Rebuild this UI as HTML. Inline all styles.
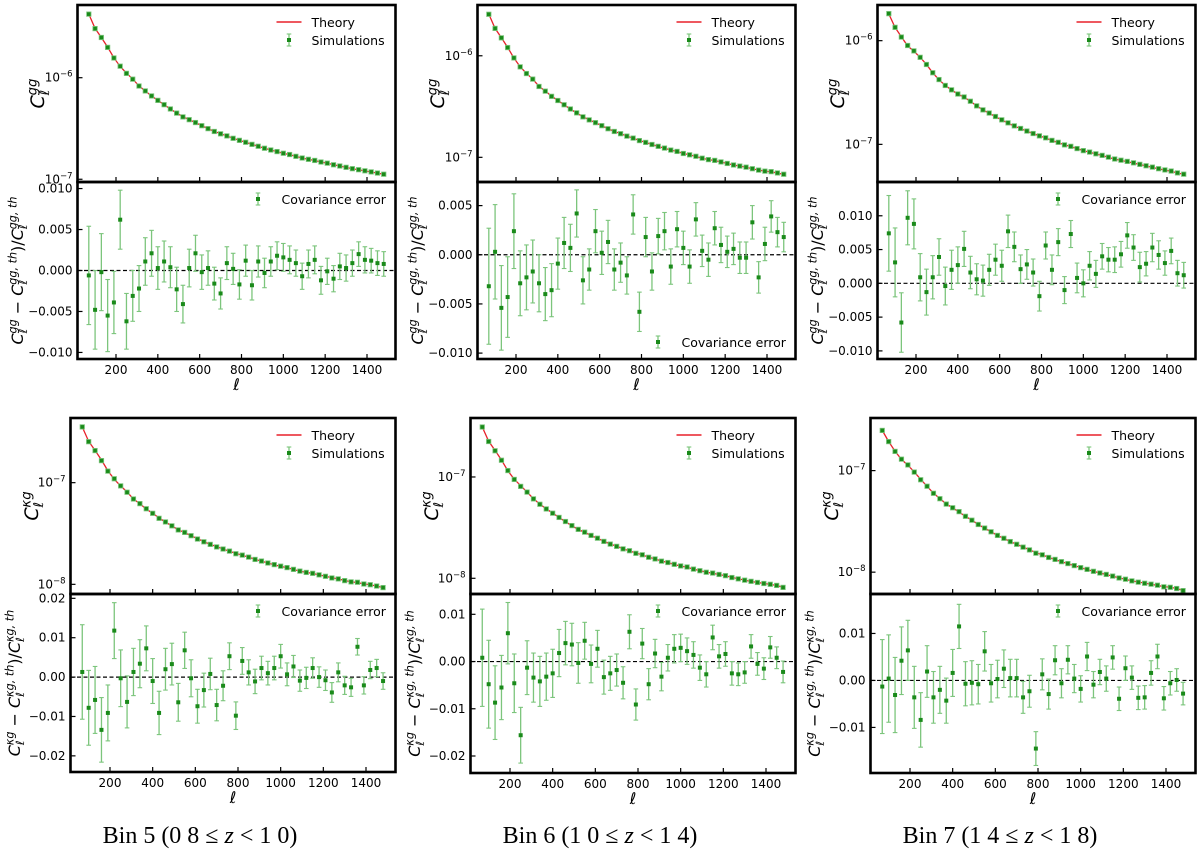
<!DOCTYPE html>
<html><head><meta charset="utf-8">
<style>
html,body{margin:0;padding:0;background:#fff;}
svg{display:block;}
text{font-family:"DejaVu Sans","Liberation Sans",sans-serif;}
.cap{font-family:"Liberation Serif",serif;font-size:24px;}
</style></head>
<body>
<svg id="fig" width="1200" height="853" viewBox="0 0 1200 853"></svg>
<script>
const ell = [70,100,130,160,190,220,250,280,310,340,370,400,430,460,490,520,550,580,610,640,670,700,730,760,790,820,850,880,910,940,970,1000,1030,1060,1090,1120,1150,1180,1210,1240,1270,1300,1330,1360,1390,1420,1450,1480];
const xTicks = [200,400,600,800,1000,1200,1400];

// theory spectra (gg in units of 1e-7, kg in units of 1e-8)
const thGG5 = [42.3,30.6,24.9,20.0,15.7,12.9,11.1,9.7,8.3,7.4,6.6,5.98,5.42,4.92,4.49,4.13,3.86,3.61,3.37,3.15,2.96,2.81,2.67,2.53,2.42,2.31,2.21,2.11,2.02,1.94,1.87,1.80,1.75,1.68,1.62,1.57,1.53,1.48,1.44,1.39,1.35,1.31,1.27,1.24,1.21,1.18,1.15,1.12];
const thGG6 = [25.7,18.6,15.1,12.1,9.5,7.8,6.7,5.9,5.0,4.5,4.0,3.63,3.29,2.99,2.73,2.51,2.34,2.19,2.05,1.91,1.80,1.71,1.62,1.54,1.47,1.40,1.34,1.28,1.23,1.18,1.14,1.09,1.06,1.02,0.98,0.95,0.93,0.90,0.87,0.84,0.82,0.80,0.77,0.75,0.73,0.72,0.70,0.68];
const thGG7 = [18.1,13.4,10.9,8.9,7.9,6.9,5.9,4.9,4.2,3.7,3.35,3.05,2.85,2.6,2.35,2.15,2.0,1.85,1.72,1.6,1.5,1.42,1.34,1.27,1.21,1.15,1.09,1.04,0.99,0.95,0.91,0.87,0.84,0.81,0.78,0.75,0.72,0.70,0.68,0.66,0.64,0.62,0.60,0.58,0.565,0.55,0.53,0.515];
const thKG5 = [35.3,25.5,20.8,16.7,13.1,10.8,9.3,8.1,6.9,6.2,5.5,5.0,4.5,4.1,3.75,3.45,3.22,3.01,2.81,2.63,2.47,2.35,2.23,2.11,2.02,1.93,1.85,1.76,1.69,1.62,1.56,1.50,1.46,1.40,1.35,1.31,1.28,1.24,1.20,1.16,1.13,1.09,1.06,1.04,1.01,0.99,0.96,0.93];
const thKG6 = [31.1,22.5,18.3,14.7,11.5,9.5,8.2,7.1,6.1,5.4,4.85,4.4,3.98,3.62,3.30,3.04,2.84,2.65,2.48,2.32,2.18,2.07,1.96,1.86,1.78,1.70,1.62,1.55,1.48,1.43,1.37,1.32,1.29,1.23,1.19,1.15,1.12,1.09,1.06,1.02,0.99,0.96,0.93,0.91,0.89,0.87,0.85,0.815];
const thKG7 = [24.9,19.3,15.5,12.9,11.3,9.7,8.2,7.0,6.0,5.3,4.7,4.3,3.9,3.55,3.25,2.95,2.7,2.5,2.3,2.15,2.0,1.88,1.77,1.66,1.56,1.48,1.40,1.33,1.27,1.21,1.16,1.11,1.06,1.02,0.98,0.95,0.91,0.88,0.85,0.82,0.80,0.78,0.76,0.74,0.72,0.71,0.69,0.66];

// fractional residuals and covariance errors
const resGG5 = [-0.0006,-0.0048,-0.0002,-0.0055,-0.0039,0.0062,-0.0062,-0.0031,-0.0022,0.0011,0.0021,0.0003,0.0011,0.0004,-0.0023,-0.0041,0.0003,0.0021,-0.0002,0.0003,-0.0016,-0.0028,0.0009,0.0002,-0.0017,0.0012,-0.0018,0.0011,-0.0003,0.0011,0.0018,0.0016,0.0013,0.0009,-0.0007,0.0008,0.0013,-0.0012,-0.0001,-0.0010,0.0005,0.0003,0.0009,0.0020,0.0013,0.0012,0.0009,0.0008];
const errGG5 = [0.006,0.0048,0.0047,0.0044,0.0038,0.0036,0.0034,0.0031,0.0028,0.0029,0.0028,0.0026,0.0025,0.0025,0.0027,0.0023,0.0023,0.0022,0.0021,0.0021,0.0020,0.0019,0.0020,0.0019,0.0018,0.0019,0.0018,0.0019,0.0018,0.0018,0.0017,0.0017,0.0017,0.0016,0.0016,0.0017,0.0017,0.0017,0.0016,0.0016,0.0016,0.0016,0.0016,0.0015,0.0016,0.0015,0.0015,0.0015];
const resGG6 = [-0.0032,0.0003,-0.0054,-0.0043,0.0024,-0.0029,-0.0023,-0.0017,-0.0029,-0.0040,-0.0036,-0.0009,0.0012,0.0007,0.0042,-0.0026,-0.0015,0.0024,0.0002,0.0013,-0.0015,-0.0008,-0.0021,0.0041,-0.0058,0.0018,-0.0017,0.0019,0.0024,-0.0012,0.0026,0.0007,-0.0012,0.0036,0.0004,-0.0005,0.0027,0.0010,0.0003,0.0006,-0.0003,-0.0003,0.0033,-0.0023,0.0011,0.0039,0.0023,0.0018];
const errGG6 = [0.0059,0.0048,0.0043,0.0041,0.0038,0.0033,0.0033,0.0032,0.0029,0.0027,0.0027,0.0026,0.0026,0.0024,0.0024,0.0024,0.0021,0.0022,0.0022,0.0022,0.0021,0.0020,0.0019,0.0020,0.0020,0.0020,0.0019,0.0018,0.0019,0.0018,0.0018,0.0017,0.0017,0.0017,0.0016,0.0017,0.0017,0.0018,0.0016,0.0016,0.0016,0.0016,0.0017,0.0016,0.0017,0.0016,0.0015,0.0015];
const resGG7 = [0.0074,0.0031,-0.0058,0.0097,0.0088,0.0009,-0.0013,0.0009,0.0039,-0.0004,0.0020,0.0027,0.0051,0.0016,0.0006,0.0004,0.0020,0.0035,0.0026,0.0077,0.0054,0.0021,0.0028,0.0016,-0.0019,0.0056,0.0020,0.0061,-0.0010,0.0073,0.0008,0.0000,0.0026,0.0014,0.0040,0.0035,0.0035,0.0043,0.0071,0.0053,0.0024,0.0029,0.0053,0.0042,0.0030,0.0048,0.0015,0.0012];
const errGG7 = [0.0056,0.0051,0.0044,0.0040,0.0037,0.0035,0.0034,0.0032,0.0027,0.0028,0.0029,0.0027,0.0026,0.0024,0.0023,0.0023,0.0023,0.0023,0.0023,0.0024,0.0022,0.0021,0.0022,0.0020,0.0022,0.0020,0.0022,0.0020,0.0020,0.0020,0.0022,0.0020,0.0021,0.0020,0.0019,0.0018,0.0019,0.0019,0.0019,0.0019,0.0022,0.0018,0.0021,0.0021,0.0018,0.0019,0.0019,0.0019];
const resKG5 = [0.0013,-0.0078,-0.0058,-0.0134,-0.0091,0.0118,-0.0003,-0.0063,0.0013,0.0034,0.0073,-0.0010,-0.0091,0.0020,0.0033,-0.0064,0.0068,-0.0003,-0.0074,-0.0033,0.0008,-0.0071,-0.0022,0.0053,-0.0098,0.0041,0.0012,-0.0011,0.0023,0.0010,0.0023,0.0053,0.0007,0.0027,-0.0009,-0.0002,0.0023,0.0000,-0.0008,-0.0039,0.0012,-0.0021,-0.0026,0.0077,-0.0021,0.0018,0.0023,-0.0010];
const errKG5 = [0.012,0.0095,0.0085,0.0082,0.0071,0.0071,0.0072,0.0066,0.0060,0.0061,0.0057,0.0057,0.0055,0.0053,0.0053,0.0048,0.0046,0.0047,0.0043,0.0043,0.0040,0.0040,0.0038,0.0034,0.0035,0.0034,0.0032,0.0031,0.0030,0.0030,0.0030,0.0030,0.0029,0.0028,0.0027,0.0027,0.0026,0.0026,0.0026,0.0025,0.0024,0.0023,0.0023,0.0021,0.0022,0.0022,0.0022,0.0021];
const resKG6 = [0.0008,-0.0048,-0.0087,-0.0055,0.0060,-0.0046,-0.0156,-0.0013,-0.0034,-0.0042,-0.0032,-0.0025,0.0018,0.0039,0.0036,-0.0003,0.0044,-0.0005,0.0027,-0.0033,-0.0025,-0.0018,-0.0045,0.0063,-0.0091,0.0038,-0.0048,0.0017,-0.0032,0.0008,0.0027,0.0029,0.0022,0.0014,-0.0013,-0.0027,0.0051,0.0011,0.0016,-0.0025,-0.0027,-0.0023,0.0032,-0.0005,-0.0015,0.0030,0.0008,-0.0022];
const errKG6 = [0.0103,0.0093,0.0078,0.0068,0.0065,0.0062,0.0059,0.0057,0.0052,0.0053,0.0050,0.0051,0.0050,0.0046,0.0045,0.0043,0.0039,0.0040,0.0039,0.0036,0.0036,0.0034,0.0034,0.0036,0.0033,0.0032,0.0033,0.0030,0.0030,0.0028,0.0030,0.0029,0.0028,0.0028,0.0027,0.0027,0.0026,0.0025,0.0026,0.0025,0.0024,0.0023,0.0025,0.0024,0.0023,0.0023,0.0023,0.0023];
const resKG7 = [-0.0013,0.0004,-0.0031,0.0042,0.0064,-0.0036,-0.0084,0.0019,-0.0036,-0.0020,-0.0043,0.0016,0.0115,-0.0007,-0.0005,-0.0008,0.0062,-0.0006,0.0003,0.0025,0.0005,0.0005,-0.0036,-0.0023,-0.0145,0.0013,-0.0029,0.0043,-0.0006,0.0044,0.0004,-0.0018,0.0051,-0.0009,0.0018,0.0004,0.0049,-0.0039,0.0026,0.0006,-0.0037,-0.0036,0.0016,0.0051,-0.0038,-0.0006,0.0001,-0.0028];
const errKG7 = [0.0100,0.0093,0.0080,0.0072,0.0064,0.0066,0.0058,0.0055,0.0055,0.0050,0.0048,0.0050,0.0047,0.0047,0.0047,0.0042,0.0042,0.0040,0.0040,0.0040,0.0040,0.0040,0.0034,0.0034,0.0036,0.0033,0.0032,0.0031,0.0031,0.0030,0.0030,0.0028,0.0030,0.0028,0.0027,0.0027,0.0025,0.0025,0.0026,0.0025,0.0025,0.0025,0.0026,0.0026,0.0025,0.0025,0.0024,0.0024];

const captions = [["Bin 5 (0 8 ≤ ","z"," < 1 0)"],["Bin 6 (1 0 ≤ ","z"," < 1 4)"],["Bin 7 (1 4 ≤ ","z"," < 1 8)"]];

const NS = "http://www.w3.org/2000/svg";
const svg = document.getElementById('fig');
function mk(tag, attrs, parent){
  const e = document.createElementNS(NS, tag);
  for (const k in attrs) e.setAttribute(k, attrs[k]);
  (parent||svg).appendChild(e);
  return e;
}

const panels = [
  {kind:'gg', th:thGG5, unit:1e-7, res:resGG5, err:errGG5, L:77.5, R:395.5, T:5, M:182, B:359, x200:116, x1400:367, logR:[-7.027,-5.284], resR:[-0.0108,0.0108], resT:[-0.010,-0.005,0,0.005,0.010], dec:3, legBottom:false, ylx:38, rlx:17},
  {kind:'gg', th:thGG6, unit:1e-7, res:resGG6, err:errGG6, L:477.5, R:795.5, T:5, M:182, B:359, x200:516, x1400:767, logR:[-7.243,-5.50], resR:[-0.0106,0.0074], resT:[-0.010,-0.005,0,0.005], dec:3, legBottom:true, ylx:438, rlx:417},
  {kind:'gg', th:thGG7, unit:1e-7, res:resGG7, err:errGG7, L:877.5, R:1195.5, T:5, M:182, B:359, x200:916, x1400:1167, logR:[-7.363,-5.656], resR:[-0.0112,0.0150], resT:[-0.010,-0.005,0,0.005,0.010], dec:3, legBottom:false, ylx:838, rlx:817},
  {kind:'kg', th:thKG5, unit:1e-8, res:resKG5, err:errKG5, L:70.5, R:395.5, T:418, M:594, B:772, x200:110, x1400:366, logR:[-8.095,-6.364], resR:[-0.0241,0.0211], resT:[-0.02,-0.01,0,0.01,0.02], dec:2, legBottom:false, ylx:32, rlx:14},
  {kind:'kg', th:thKG6, unit:1e-8, res:resKG6, err:errKG6, L:470.5, R:795.5, T:418, M:594, B:773, x200:510, x1400:766, logR:[-8.155,-6.418], resR:[-0.0236,0.0143], resT:[-0.02,-0.01,0,0.01], dec:2, legBottom:false, ylx:432, rlx:414},
  {kind:'kg', th:thKG7, unit:1e-8, res:resKG7, err:errKG7, L:870.5, R:1195.5, T:418, M:594, B:773, x200:910, x1400:1166, logR:[-8.215,-6.482], resR:[-0.0197,0.0184], resT:[-0.01,0,0.01], dec:2, legBottom:false, ylx:832, rlx:814}
];

const GREEN = '#1a8a1a', LGREEN = '#7cc57c', RED = '#e8202a';

function fmt(v, d){ const s = Math.abs(v).toFixed(d); return (v < -1e-12 ? '\u2212' : '') + s; }

function addC(t, sup, size){
  const a = mk('tspan', {'font-style':'italic'}, t); a.textContent = 'C';
  const b = mk('tspan', {'font-style':'italic', 'font-size':size*0.7, dy:size*0.25}, t); b.textContent = 'ℓ';
  const c = mk('tspan', {'font-style':'italic', 'font-size':size*0.7, dx:-size*0.3, dy:-size*0.65}, t); c.textContent = sup;
  return function(txt){ const d = mk('tspan', {dy:size*0.4}, t); d.textContent = txt; };
}

panels.forEach((p, pi) => {
  const g = mk('g', {});
  
  
  const xs = v => p.x200 + (v - 200) * (p.x1400 - p.x200) / 1200;
  const yl = v => p.M - (Math.log10(v) - p.logR[0]) / (p.logR[1] - p.logR[0]) * (p.M - p.T);
  const yr = v => p.B - (v - p.resR[0]) / (p.resR[1] - p.resR[0]) * (p.B - p.M);
  const clipId = 'clip' + pi;
  const cp = mk('clipPath', {id:clipId}, g);
  mk('rect', {x:p.L, y:p.T, width:p.R-p.L, height:p.B-p.T}, cp);

  const thVals = p.th.map(v => v * p.unit);
  const line = mk('polyline', {points: ell.map((l,i)=> xs(l).toFixed(2)+','+yl(thVals[i]).toFixed(2)).join(' '), fill:'none', stroke:RED, 'stroke-width':1.3, 'clip-path':'url(#'+clipId+')'}, g);
  
  
  ell.forEach((l,i) => {
    const sv = thVals[i] * (1 + p.res[i]);
    const m = mk('rect', {x:xs(l)-2.2, y:yl(sv)-2.2, width:4.4, height:4.4, fill:GREEN, stroke:LGREEN, 'stroke-width':0.8}, g);
    
    
  });
  mk('line', {x1:p.L, x2:p.R, y1:yr(0), y2:yr(0), stroke:'#000', 'stroke-width':1.2, 'stroke-dasharray':'4,2.5'}, g);
  ell.forEach((l,i) => {
    const x = xs(l), y1 = yr(p.res[i] + p.err[i]), y2 = yr(p.res[i] - p.err[i]);
    const eb = mk('g', {'clip-path':'url(#'+clipId+')'}, g);
    
    
    mk('line', {x1:x, x2:x, y1:y1, y2:y2, stroke:LGREEN, 'stroke-width':1.3}, eb);
    mk('line', {x1:x-2.3, x2:x+2.3, y1:y1, y2:y1, stroke:LGREEN, 'stroke-width':1.1}, eb);
    mk('line', {x1:x-2.3, x2:x+2.3, y1:y2, y2:y2, stroke:LGREEN, 'stroke-width':1.1}, eb);
    mk('rect', {x:x-2, y:yr(p.res[i])-2, width:4, height:4, fill:GREEN}, eb);
  });

  mk('rect', {x:p.L, y:p.T, width:p.R-p.L, height:p.M-p.T, fill:'none', stroke:'#000', 'stroke-width':2.6}, g);
  mk('rect', {x:p.L, y:p.M, width:p.R-p.L, height:p.B-p.M, fill:'none', stroke:'#000', 'stroke-width':2.6}, g);

  xTicks.forEach(v => {
    const x = xs(v);
    mk('line', {x1:x, x2:x, y1:p.M, y2:p.M-5, stroke:'#000', 'stroke-width':1.2}, g);
    mk('line', {x1:x, x2:x, y1:p.B, y2:p.B-5, stroke:'#000', 'stroke-width':1.2}, g);
    const t = mk('text', {x:x, y:p.B+15, 'font-size':12, 'text-anchor':'middle'}, g);
    t.textContent = String(v);
    
    
  });
  const xl = mk('text', {x:(p.L+p.R)/2, y:p.B+31, 'font-size':16, 'font-style':'italic', 'text-anchor':'middle'}, g);
  xl.textContent = 'ℓ';
  
  

  for (let e = Math.ceil(p.logR[0]); e <= Math.floor(p.logR[1]); e++) {
    const y = yl(Math.pow(10, e));
    mk('line', {x1:p.L, x2:p.L+5, y1:y, y2:y, stroke:'#000', 'stroke-width':1.2}, g);
    const t = mk('text', {x:p.L-5, y:y+4, 'font-size':12, 'text-anchor':'end'}, g);
    
    
    const a = mk('tspan', {}, t); a.textContent = '10';
    const b = mk('tspan', {dy:-5, 'font-size':8.5}, t); b.textContent = '\u2212' + (-e);
  }
  p.resT.forEach(v => {
    const y = yr(v);
    mk('line', {x1:p.L, x2:p.L+5, y1:y, y2:y, stroke:'#000', 'stroke-width':1.2}, g);
    const t = mk('text', {x:p.L-5, y:y+4, 'font-size':12, 'text-anchor':'end'}, g);
    t.textContent = fmt(v, p.dec);
    
    
  });

  const sup = p.kind === 'gg' ? 'gg' : 'κg';
  const yt = mk('text', {transform:'translate('+(p.ylx+6)+','+((p.T+p.M)/2)+') rotate(-90)', 'font-size':19, 'text-anchor':'middle'}, g);
  
  
  addC(yt, sup, 19);
  const rt = mk('text', {transform:'translate('+(p.rlx+6)+','+((p.M+p.B)/2)+') rotate(-90)', 'font-size':16, 'text-anchor':'middle'}, g);
  
  
  const after1 = addC(rt, sup, 16); after1(' \u2212 ');
  const after2 = addC(rt, sup + ', th', 16); after2(')/');
  addC(rt, sup + ', th', 16);

  const lg = mk('g', {}, g);
  
  
  mk('line', {x1:p.R-119, x2:p.R-94, y1:p.T+17, y2:p.T+17, stroke:RED, 'stroke-width':1.4}, lg);
  const t1 = mk('text', {x:p.R-84, y:p.T+22, 'font-size':12.5}, lg); t1.textContent = 'Theory';
  const lx = p.R-106.5, ly = p.T+35;
  mk('line', {x1:lx, x2:lx, y1:ly-6, y2:ly+6, stroke:LGREEN, 'stroke-width':1.3}, lg);
  mk('line', {x1:lx-2.3, x2:lx+2.3, y1:ly-6, y2:ly-6, stroke:LGREEN, 'stroke-width':1.1}, lg);
  mk('line', {x1:lx-2.3, x2:lx+2.3, y1:ly+6, y2:ly+6, stroke:LGREEN, 'stroke-width':1.1}, lg);
  mk('rect', {x:lx-2, y:ly-2, width:4, height:4, fill:GREEN}, lg);
  const t2 = mk('text', {x:p.R-84, y:ly+5, 'font-size':12.5}, lg); t2.textContent = 'Simulations';

  const rg = mk('g', {}, g);
  
  
  const ry = p.legBottom ? p.B-17 : p.M+17, rx = p.R-137.5;
  mk('line', {x1:rx, x2:rx, y1:ry-6, y2:ry+6, stroke:LGREEN, 'stroke-width':1.3}, rg);
  mk('line', {x1:rx-2.3, x2:rx+2.3, y1:ry-6, y2:ry-6, stroke:LGREEN, 'stroke-width':1.1}, rg);
  mk('line', {x1:rx-2.3, x2:rx+2.3, y1:ry+6, y2:ry+6, stroke:LGREEN, 'stroke-width':1.1}, rg);
  mk('rect', {x:rx-2, y:ry-2, width:4, height:4, fill:GREEN}, rg);
  const t3 = mk('text', {x:p.R-114, y:ry+5, 'font-size':12.5}, rg); t3.textContent = 'Covariance error';
});

captions.forEach((c, i) => {
  const t = mk('text', {x:200 + 400*i, y:843, 'text-anchor':'middle', class:'cap'});
  
  
  const a = mk('tspan', {}, t); a.textContent = c[0];
  const b = mk('tspan', {'font-style':'italic'}, t); b.textContent = c[1];
  const d = mk('tspan', {}, t); d.textContent = c[2];
});
</script>
</body></html>
